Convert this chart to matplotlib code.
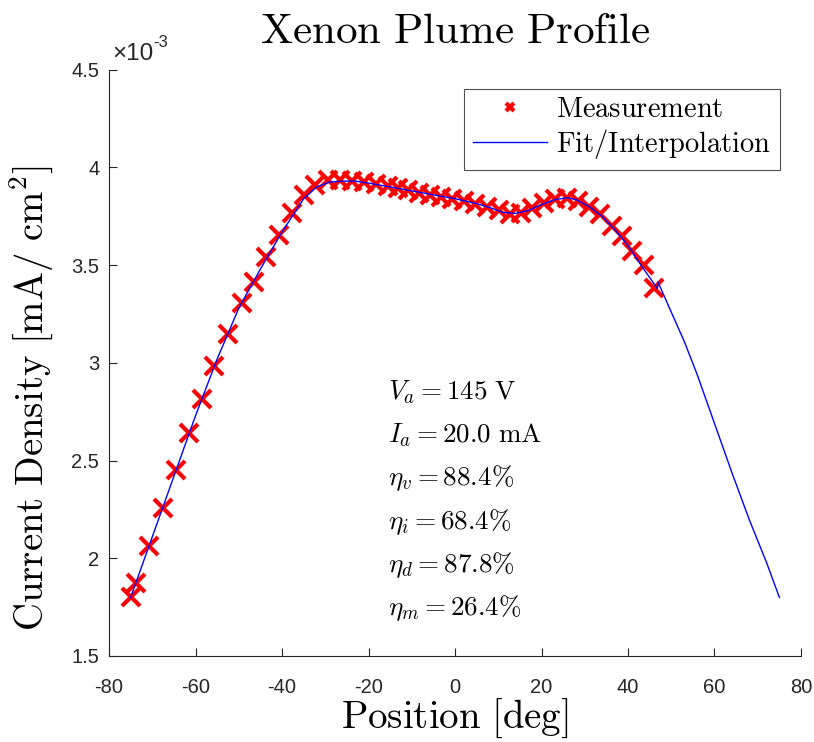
import numpy as np
import matplotlib
matplotlib.use("Agg")
import matplotlib.pyplot as plt
from matplotlib.ticker import FuncFormatter, MultipleLocator

plt.rcParams["mathtext.fontset"] = "cm"
plt.rcParams["font.family"] = ["Liberation Sans", "DejaVu Sans"]
plt.rcParams["axes.unicode_minus"] = False

# Measured current density (x 1e-3 mA/cm^2) vs angular position (deg)
meas_pos = [-75.0, -73.8, -70.8, -67.6, -64.6, -61.6, -58.6, -55.8, -52.6, -49.3,
            -46.5, -43.6, -40.6, -37.6, -35.0, -32.3, -29.4, -26.6, -23.8, -21.0,
            -18.2, -15.6, -13.2, -10.8, -8.3, -5.7, -3.2, -0.7, 2.0, 4.7,
            7.4, 10.1, 12.6, 15.2, 17.9, 20.6, 23.2, 25.8, 28.4, 31.0,
            33.6, 36.2, 38.6, 41.0, 43.6, 46.0]
meas_j = [1.80, 1.875, 2.065, 2.255, 2.45, 2.64, 2.815, 2.985, 3.15, 3.305,
          3.415, 3.54, 3.655, 3.765, 3.86, 3.91, 3.935, 3.935, 3.93, 3.925,
          3.915, 3.905, 3.895, 3.885, 3.87, 3.86, 3.85, 3.84, 3.83, 3.815,
          3.80, 3.78, 3.76, 3.765, 3.79, 3.82, 3.84, 3.845, 3.83, 3.80,
          3.76, 3.70, 3.65, 3.57, 3.50, 3.385]

# Fit / interpolation curve
fit_pos = [-75, -70, -65, -60, -55, -50, -45, -40, -35, -32, -29, -26, -23, -20,
           -15, -10, -5, 0, 5, 8, 11, 14, 17, 20, 23, 26, 28, 31, 34, 37, 40, 43,
           46.8, 46.9, 50, 53, 56, 60, 64, 68, 72, 75]
fit_j = [1.80, 2.11, 2.42, 2.73, 3.02, 3.28, 3.48, 3.67, 3.84, 3.90, 3.925, 3.93,
         3.93, 3.92, 3.90, 3.88, 3.86, 3.84, 3.815, 3.795, 3.77, 3.765, 3.78, 3.81,
         3.835, 3.845, 3.835, 3.80, 3.75, 3.68, 3.60, 3.50, 3.38, 3.415, 3.26,
         3.11, 2.94, 2.69, 2.44, 2.20, 1.98, 1.80]

SCALE = 1e-3

annot = [r"$V_a = 145\ \mathrm{V}$",
         r"$I_a = 20.0\ \mathrm{mA}$",
         r"$\eta_v = 88.4\%$",
         r"$\eta_i = 68.4\%$",
         r"$\eta_d = 87.8\%$",
         r"$\eta_m = 26.4\%$"]

fig = plt.figure(figsize=(8.14, 7.42), dpi=100)
ax = fig.add_axes([0.134, 0.116, 0.850, 0.790])

ax.plot(meas_pos, np.array(meas_j) * SCALE, "x", color="red", markersize=13.5,
        markeredgewidth=3, label=r"$\mathrm{Measurement}$", zorder=3)
ax.plot(fit_pos, np.array(fit_j) * SCALE, "-", color="blue", linewidth=1.0,
        label=r"$\mathrm{Fit/Interpolation}$", zorder=4)

ax.set_xlim(-80, 80)
ax.set_ylim(1.5e-3, 4.5e-3)
ax.xaxis.set_major_locator(MultipleLocator(20))
ax.yaxis.set_major_locator(MultipleLocator(0.5e-3))
ax.yaxis.set_major_formatter(FuncFormatter(lambda v, p: f"{v / SCALE:g}"))

for s in ["top", "right"]:
    ax.spines[s].set_visible(False)
for s in ["left", "bottom"]:
    ax.spines[s].set_color("#262626")
    ax.spines[s].set_linewidth(0.8)
ax.tick_params(direction="in", length=6, width=0.8, color="#262626",
               labelcolor="#262626", labelsize=14.5)
ax.tick_params(axis="x", pad=16)
ax.tick_params(axis="y", pad=7)

# MATLAB-style exponent label
ax.text(0.004, 1.008, "×10", transform=ax.transAxes, fontsize=17.5,
        color="#262626", ha="left", va="bottom")
ax.text(0.064, 1.034, "-3", transform=ax.transAxes, fontsize=12,
        color="#262626", ha="left", va="bottom")

ax.set_title(r"$\mathrm{Xenon\ Plume\ Profile}$", fontsize=31, pad=19)
ax.set_xlabel(r"$\mathrm{Position\ [deg]}$", fontsize=28, labelpad=0)
ax.set_ylabel(r"$\mathrm{Current\ Density\ [mA/\ cm^2]}$", fontsize=28)
ax.yaxis.set_label_coords(-0.078, 0.44)

for i, t in enumerate(annot):
    ax.text(0.403, 0.450 - i * 0.0737, t, transform=ax.transAxes,
            fontsize=19.5, ha="left", va="center")

leg = ax.legend(loc="upper right", bbox_to_anchor=(0.970, 0.968), fontsize=20.5,
                frameon=True, fancybox=False, edgecolor="#262626",
                markerscale=0.45, handlelength=2.6, borderpad=0.3,
                labelspacing=0.15, handletextpad=0.33, borderaxespad=0)
leg.get_frame().set_linewidth(0.8)

fig.savefig("out.png", dpi=100)
